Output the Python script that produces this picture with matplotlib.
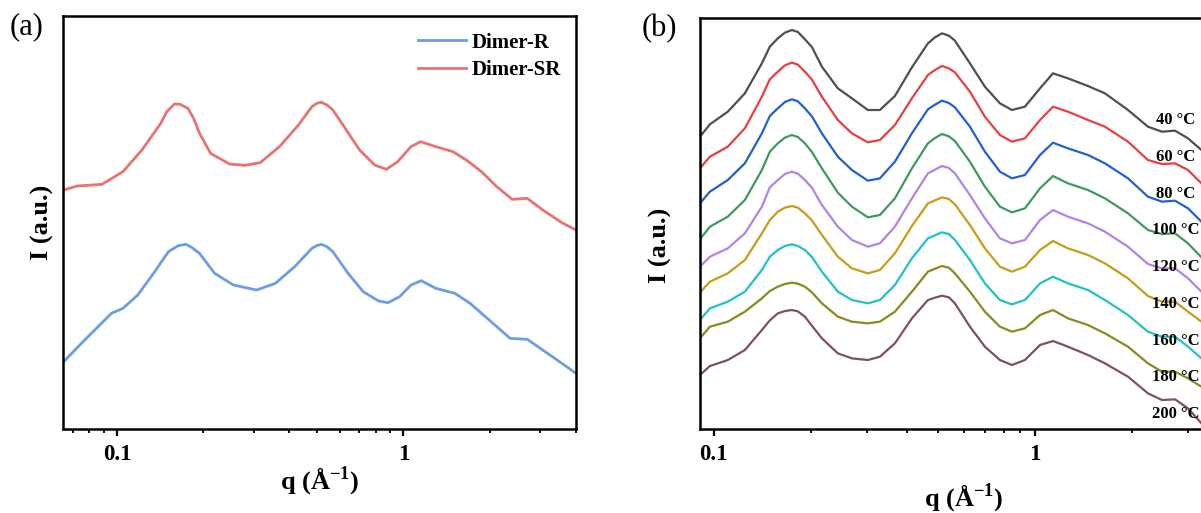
import numpy as np
import matplotlib
matplotlib.use("Agg")
import matplotlib.pyplot as plt

plt.rcParams['font.family'] = ['Liberation Serif', 'DejaVu Serif']
plt.rcParams['mathtext.fontset'] = 'custom'
plt.rcParams['mathtext.rm'] = 'Liberation Serif'
plt.rcParams['mathtext.bf'] = 'Liberation Serif:bold'

# ---- (a) Dimer-R / Dimer-SR ----
q_sr = [0.065, 0.0724, 0.0885, 0.1047, 0.122, 0.142, 0.149, 0.1585, 0.166, 0.1765,
        0.185, 0.194, 0.212, 0.247, 0.28, 0.316, 0.369, 0.43, 0.479, 0.498,
        0.517, 0.541, 0.567, 0.621, 0.703, 0.794, 0.871, 0.955, 1.063, 1.148,
        1.298, 1.49, 1.66, 1.875, 2.12, 2.40, 2.71, 3.07, 3.58, 4.01]
I_sr = [71.7, 72.9, 73.4, 77.2, 83.7, 91.7, 95.2, 97.5, 97.4, 96.2,
        93.2, 88.7, 82.7, 79.5, 79.1, 79.9, 84.7, 91.2, 96.7, 97.7,
        98.0, 97.2, 95.7, 90.7, 83.7, 79.2, 77.9, 80.2, 84.7, 86.2,
        84.7, 83.2, 80.7, 77.2, 72.7, 68.9, 69.2, 65.7, 61.9, 59.7]

q_r = [0.065, 0.077, 0.0955, 0.1047, 0.118, 0.134, 0.151, 0.1634, 0.174, 0.182,
       0.194, 0.219, 0.255, 0.307, 0.357, 0.417, 0.479, 0.498, 0.517, 0.541,
       0.567, 0.641, 0.724, 0.819, 0.884, 0.97, 1.063, 1.155, 1.298, 1.514,
       1.71, 1.995, 2.36, 2.71, 3.07, 3.58, 4.01]
I_r = [20.2, 26.7, 34.7, 36.2, 40.2, 46.7, 53.2, 55.0, 55.4, 54.5,
       52.7, 46.7, 43.2, 41.7, 43.7, 48.7, 54.2, 55.0, 55.4, 54.7,
       53.2, 46.7, 41.2, 38.4, 37.9, 39.7, 43.2, 44.5, 42.2, 40.7,
       37.7, 32.7, 27.2, 26.9, 23.7, 19.7, 16.7]

# ---- (b) temperature series (stacked) ----
q_t = [0.0905, 0.0972, 0.1105, 0.1249, 0.1411, 0.1494, 0.1582, 0.1664, 0.175, 0.1827,
       0.1921, 0.202, 0.217, 0.2433, 0.2691, 0.3018, 0.3289, 0.3663, 0.4138, 0.4642,
       0.4883, 0.5133, 0.5396, 0.5633, 0.6273, 0.6984, 0.778, 0.8478, 0.9306, 1.037,
       1.138, 1.267, 1.463, 1.652, 1.949, 2.249, 2.487, 2.731, 2.997, 3.30]

temps = ['40 °C', '60 °C', '80 °C', '100 °C', '120 °C', '140 °C', '160 °C', '180 °C', '200 °C']

I_40 = [87.7, 91.4, 95.2, 100.7, 109.7, 114.7, 117.2, 118.9, 119.7, 119.1,
        116.9, 114.6, 108.7, 102.2, 99.2, 95.7, 95.7, 99.9, 108.5, 115.7,
        117.5, 118.7, 118.0, 116.5, 109.7, 102.7, 97.7, 95.7, 96.7, 102.2,
        106.7, 105.2, 102.9, 100.7, 95.7, 90.7, 89.2, 89.5, 87.2, 83.7]
I_60 = [78.2, 81.7, 84.7, 90.2, 99.7, 104.9, 107.2, 109.1, 109.9, 109.3,
        107.2, 104.8, 99.7, 92.7, 88.7, 86.0, 86.7, 91.2, 99.2, 106.2,
        107.7, 108.9, 108.2, 107.0, 101.2, 93.7, 88.2, 86.2, 87.2, 92.7,
        96.7, 95.2, 92.7, 90.7, 86.2, 80.7, 79.5, 79.7, 77.7, 73.7]
I_80 = [67.7, 71.2, 74.7, 79.7, 88.7, 93.9, 96.2, 98.1, 98.9, 98.3,
        96.2, 93.8, 88.7, 81.7, 77.7, 74.5, 75.2, 80.2, 88.7, 95.9,
        97.3, 98.5, 97.8, 96.5, 90.7, 83.2, 77.2, 75.2, 76.2, 82.2,
        85.9, 84.2, 82.2, 79.7, 75.2, 69.7, 68.2, 68.5, 66.2, 62.2]
I_100 = [56.9, 60.7, 63.7, 68.7, 77.7, 83.2, 85.7, 87.4, 88.2, 87.6,
         85.7, 83.1, 78.2, 70.9, 66.7, 63.5, 64.2, 69.2, 78.2, 85.7,
         87.3, 88.5, 87.8, 86.4, 80.2, 72.7, 66.7, 65.0, 66.2, 72.2,
         75.9, 73.7, 71.7, 69.2, 64.7, 59.7, 58.5, 58.7, 55.7, 51.5]
I_120 = [48.7, 51.7, 54.2, 58.7, 66.7, 72.5, 74.7, 76.5, 77.2, 76.6,
         74.7, 72.4, 67.2, 60.7, 56.7, 54.7, 55.7, 60.7, 69.2, 76.7,
         77.8, 78.9, 78.3, 76.7, 70.2, 63.2, 57.2, 55.7, 56.7, 62.7,
         65.7, 63.7, 61.7, 59.2, 54.7, 49.5, 48.2, 48.2, 45.2, 41.2]
I_140 = [40.9, 44.2, 46.7, 50.7, 58.7, 62.7, 65.2, 66.4, 66.9, 66.4,
         64.7, 62.6, 58.2, 51.7, 48.2, 46.7, 47.7, 52.7, 60.9, 67.7,
         68.6, 69.5, 69.0, 67.4, 61.2, 54.2, 48.7, 47.2, 48.7, 53.7,
         56.4, 54.2, 52.2, 49.7, 45.2, 39.9, 38.2, 38.2, 35.2, 32.2]
I_160 = [32.7, 36.2, 38.2, 41.2, 47.7, 51.7, 53.7, 54.9, 55.4, 54.9,
         53.7, 51.6, 47.2, 41.2, 38.7, 37.7, 38.7, 43.2, 51.2, 57.2,
         58.1, 59.0, 58.5, 56.7, 50.7, 43.7, 38.7, 37.4, 38.7, 43.7,
         45.7, 43.7, 41.7, 38.7, 34.2, 29.2, 27.7, 27.7, 24.7, 21.2]
I_180 = [27.2, 30.7, 32.2, 35.2, 39.2, 41.4, 42.7, 43.5, 43.9, 43.6,
         42.7, 41.0, 37.7, 33.7, 32.2, 31.7, 32.2, 35.2, 41.2, 47.2,
         48.1, 48.9, 48.4, 46.7, 41.2, 35.2, 30.7, 29.2, 30.2, 34.2,
         35.7, 33.2, 31.2, 28.7, 24.7, 19.7, 17.2, 17.2, 15.2, 12.7]
I_200 = [16.2, 18.9, 20.7, 23.7, 29.7, 32.6, 34.7, 35.4, 35.7, 35.3,
         33.7, 31.0, 27.2, 22.7, 21.2, 20.7, 21.7, 25.7, 33.2, 38.7,
         39.4, 40.0, 39.5, 37.7, 30.7, 24.7, 20.7, 19.2, 20.7, 25.2,
         26.4, 24.7, 22.2, 19.7, 15.7, 10.7, 8.7, 8.9, 6.2, 1.7]

series_b = [I_40, I_60, I_80, I_100, I_120, I_140, I_160, I_180, I_200]
colors_b = ['#4f4f4f', '#e8403f', '#2160d2', '#3d9a5e', '#b283e6',
            '#c89c16', '#1fc3c6', '#8b8a1c', '#7d5258']

bold = dict(fontweight='bold')
fig = plt.figure(figsize=(12.01, 5.13), dpi=100)

ax1 = fig.add_axes([0.0525, 0.1637, 0.4271, 0.8051])
ax2 = fig.add_axes([0.5828, 0.1637, 0.4396, 0.8012])

ax1.plot(q_r, I_r, color='#6b9ee6', lw=2.0, label='Dimer-R')
ax1.plot(q_sr, I_sr, color='#e87373', lw=2.0, label='Dimer-SR')
ax1.set_xlim(0.0647, 4.01)
ax1.set_ylim(0, 123.9)

for c, vals in zip(colors_b, series_b):
    ax2.plot(q_t, vals, color=c, lw=1.6)
ax2.set_xlim(0.0905, 3.99)
ax2.set_ylim(0, 123.3)

for i, t in enumerate(temps):
    ax2.text(2.75, 92.7 - 11.03 * i, t, ha='center', va='center',
             fontsize=12, **bold)

for ax in (ax1, ax2):
    ax.set_xscale('log')
    ax.set_yticks([])
    ax.set_xticks([0.1, 1])
    ax.set_xticklabels(['0.1', '1'])
    ax.tick_params(axis='x', which='major', direction='out', length=5, width=1.6,
                   labelsize=16.5, pad=6)
    ax.tick_params(axis='x', which='minor', direction='out', length=3, width=1.3)
    for lab in ax.get_xticklabels():
        lab.set_fontweight('bold')
    for s in ax.spines.values():
        s.set_linewidth(1.8)
    ax.set_ylabel('I (a.u.)', fontsize=19, **bold)
    ax.set_xlabel(r'q (Å$^{\mathbf{-1}}$)', fontsize=19, **bold)

ax1.xaxis.set_label_coords(0.5, -0.087)
ax2.xaxis.set_label_coords(0.5, -0.127)
ax1.yaxis.set_label_coords(-0.017, 0.5)
ax2.yaxis.set_label_coords(-0.052, 0.448)

ax1.legend(loc='upper right', frameon=False, prop=dict(size=15, weight='bold'),
           handlelength=2.3, handletextpad=0.3, labelspacing=0.35,
           bbox_to_anchor=(1.008, 1.005))

fig.text(0.0225, 0.947, '(a)', fontsize=22, ha='center', va='center')
fig.text(0.549, 0.945, '(b)', fontsize=22, ha='center', va='center')

fig.savefig('out.png', dpi=100)
